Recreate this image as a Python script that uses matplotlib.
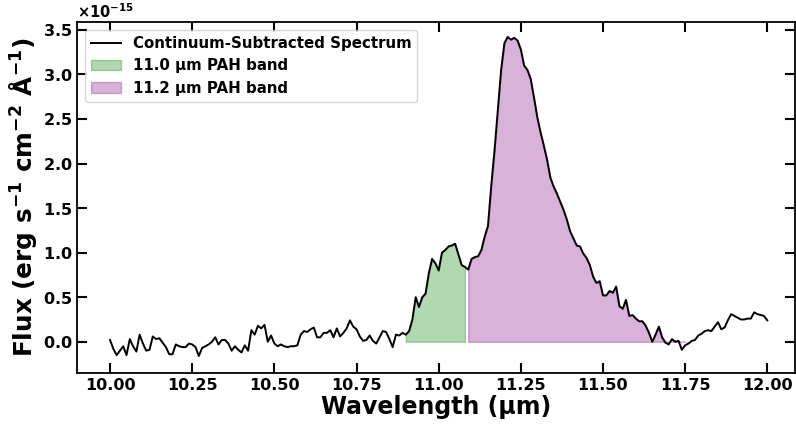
import numpy as np
import matplotlib
matplotlib.use("Agg")
import matplotlib.pyplot as plt

plt.rcParams['font.family'] = ['DejaVu Sans']
plt.rcParams['font.weight'] = 'bold'
plt.rcParams['axes.labelweight'] = 'bold'
plt.rcParams['mathtext.default'] = 'bf'

# wavelength grid (µm), 10.00 .. 12.00 in 0.01 steps
wave_start, wave_end, n_points = 10.0, 12.0, 201
wavelength = np.linspace(wave_start, wave_end, n_points)

# continuum-subtracted flux, in units of 1e-15 erg s^-1 cm^-2 Å^-1
flux_e15 = [
    0.02, -0.08, -0.15, -0.10, -0.05, -0.15, 0.03, -0.05, -0.11, 0.08,
    -0.02, -0.10, -0.09, 0.06, 0.03, 0.04, -0.01, -0.06, -0.14, -0.14,
    -0.03, -0.05, -0.06, -0.06, -0.02, -0.03, -0.06, -0.16, -0.07, -0.05,
    -0.03, 0.00, 0.05, -0.03, 0.02, 0.02, -0.02, -0.10, -0.05, -0.09,
    -0.12, -0.04, -0.10, 0.13, 0.08, 0.18, 0.15, 0.19, 0.00, 0.07,
    -0.02, -0.05, -0.03, -0.05, -0.06, -0.05, -0.05, -0.04, 0.08, 0.12,
    0.11, 0.14, 0.16, 0.05, 0.05, 0.10, 0.10, 0.13, 0.05, 0.15,
    0.06, 0.10, 0.15, 0.24, 0.17, 0.14, 0.06, 0.01, 0.02, 0.07,
    0.01, -0.02, 0.05, 0.12, 0.11, 0.03, -0.06, 0.08, 0.07, 0.10,
    0.08, 0.12, 0.25, 0.50, 0.39, 0.50, 0.54, 0.77, 0.93, 0.88,
    0.80, 1.00, 1.03, 1.07, 1.08, 1.10, 0.98, 0.86, 0.84, 0.81,
    0.93, 0.95, 0.96, 1.03, 1.18, 1.30, 1.75, 2.15, 2.60, 3.05,
    3.35, 3.42, 3.39, 3.41, 3.38, 3.28, 3.10, 3.05, 2.95, 2.74,
    2.52, 2.35, 2.20, 2.04, 1.84, 1.74, 1.66, 1.57, 1.48, 1.37,
    1.24, 1.16, 1.08, 1.07, 0.99, 0.94, 0.86, 0.73, 0.66, 0.68,
    0.52, 0.52, 0.57, 0.55, 0.62, 0.40, 0.37, 0.47, 0.29, 0.30,
    0.26, 0.23, 0.23, 0.18, 0.10, 0.00, 0.08, 0.17, 0.05, -0.01,
    -0.03, 0.03, 0.00, 0.01, -0.09, -0.04, -0.02, 0.01, 0.02, 0.07,
    0.09, 0.12, 0.13, 0.12, 0.17, 0.22, 0.14, 0.16, 0.24, 0.31,
    0.29, 0.27, 0.25, 0.25, 0.26, 0.26, 0.33, 0.31, 0.30, 0.29,
    0.24,
]
flux = np.array(flux_e15) * 1e-15

# band windows (µm)
band_110 = (10.90, 11.08)
band_112 = (11.09, 11.75)

fig = plt.figure(figsize=(7.96, 4.28), dpi=100)
ax = fig.add_axes([0.097, 0.129, 0.902, 0.819])

ax.plot(wavelength, flux, color='black', lw=1.4, label='Continuum-Subtracted Spectrum')
w = np.round(wavelength, 2)
m1 = (w >= band_110[0]) & (w <= band_110[1])
m2 = (w >= band_112[0]) & (w <= band_112[1])
ax.fill_between(wavelength, 0, np.clip(flux, 0, None), where=m1, color='green', alpha=0.3,
                label='11.0 µm PAH band')
ax.fill_between(wavelength, 0, np.clip(flux, 0, None), where=m2, color='purple', alpha=0.3,
                label='11.2 µm PAH band')

ax.set_xlim(9.90, 12.085)
ax.set_ylim(-0.348e-15, 3.585e-15)
ax.set_xticks([10.0, 10.25, 10.5, 10.75, 11.0, 11.25, 11.5, 11.75, 12.0])
ax.ticklabel_format(axis='y', style='sci', useMathText=True)
ax.set_xlabel('Wavelength (µm)', fontsize=17, fontweight='bold', labelpad=2)
ax.set_ylabel(r'Flux (erg s$^{-1}$ cm$^{-2}$ Å$^{-1}$)', fontsize=17.8, fontweight='bold',
              labelpad=3)

ax.tick_params(axis='both', which='major', direction='in', length=7, width=1.5,
               top=True, right=True, labelsize=11.5)
for lab in ax.get_xticklabels() + ax.get_yticklabels():
    lab.set_fontweight('bold')
ax.yaxis.get_offset_text().set_fontsize(10.5)
ax.yaxis.get_offset_text().set_fontweight('bold')
for s in ax.spines.values():
    s.set_linewidth(1.3)

leg = ax.legend(loc='upper left', prop={'weight': 'bold', 'size': 10.8})

fig.savefig('out.png', dpi=100)
